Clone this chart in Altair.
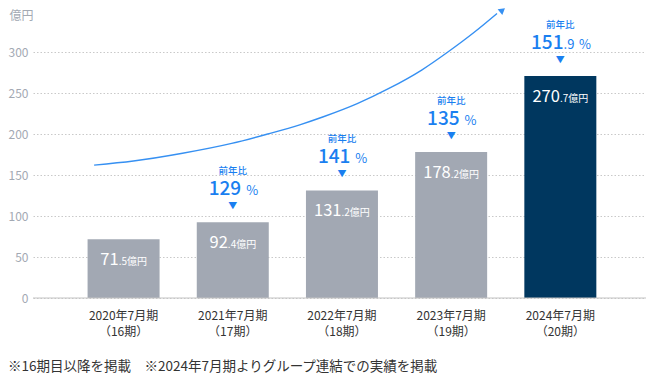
import altair as alt
import pandas as pd

# ---------------- data ----------------
periods = ["2020年7月期", "2021年7月期", "2022年7月期", "2023年7月期", "2024年7月期"]
terms = ["（16期）", "（17期）", "（18期）", "（19期）", "（20期）"]
sales = [71.5, 92.4, 131.2, 178.2, 270.7]
yoy_text = ["", "129", "141", "135", "151.9"]
highlight = [False, False, False, False, True]
y_ticks = [0, 50, 100, 150, 200, 250, 300]

# decorative growth arrow (x in bar-index units, y in 億円)
trend_idx = [-0.27, 0.09, 0.54, 0.99, 1.32, 1.62, 1.83, 2.14, 2.43, 2.73, 2.97, 3.22, 3.42]
trend_val = [162, 167, 176.5, 188.5, 200, 211.5, 221, 237, 255.5, 278, 300, 325, 347]
arrow_idx = [3.47]
arrow_val = [351]

unit = "億円"
yoy_caption = "前年比"
pct_sign = "%"
footnote = "※16期目以降を掲載　※2024年7月期よりグループ連結での実績を掲載"

# ---------------- style ----------------
FONT = "Noto Sans CJK JP"
GRAY = "#a2a8b3"
DARK = "#00375f"
BLUE = "#1a7ff0"
LINE_BLUE = "#3690f2"
AXIS_GRAY = "#a3a9b3"
TEXT = "#333333"

PLOT_W = 613
PLOT_H = 290
STEP = 111.0
X_MIN = -87 / STEP
X_MAX = X_MIN + PLOT_W / STEP
Y_MAX = PLOT_H / 0.82

xs = alt.Scale(domain=[X_MIN, X_MAX], nice=False, zero=False)
ys = alt.Scale(domain=[0, Y_MAX], nice=False, zero=True)

yaxis = alt.Axis(
    values=y_ticks, grid=True, gridDash=[1.5, 2], gridColor="#c9c9c9",
    domain=False, ticks=False, labelPadding=5, labelFontSize=12,
    labelColor=AXIS_GRAY, title=unit, titleAngle=0, titleAlign="left",
    titleBaseline="middle", titleX=-24, titleY=7, titleFontSize=12,
    titleFontWeight="normal", titleColor=AXIS_GRAY,
)


def est_width(s, size):
    w = 0.0
    for ch in s:
        if ch.isdigit():
            w += 0.553
        elif ch == ".":
            w += 0.27
        elif ch == "%":
            w += 0.72
        else:
            w += 1.0
    return w * size


BIG_BAR, SMALL_BAR = 16.5, 10
BIG_PCT, SMALL_PCT = 19, 13
PCT_GAP = 5

rows = []
for i, (p, t, v, h) in enumerate(zip(periods, terms, sales, highlight)):
    s = f"{v:.1f}"
    big, dec = s.split(".")
    small = "." + dec + unit
    off = (est_width(big, BIG_BAR) - est_width(small, SMALL_BAR)) / 2 / STEP
    rows.append({"idx": i, "sales": v, "label": p + "\n" + t, "big": big,
                 "small": small, "lx": i + off, "highlight": h})
bars_df = pd.DataFrame(rows)

yrows = []
for i, (v, yt) in enumerate(zip(sales, yoy_text)):
    if not yt:
        continue
    parts = yt.split(".")
    big = parts[0]
    dec = "." + parts[1] if len(parts) > 1 else ""
    w_big = est_width(big, BIG_PCT)
    w_dec = est_width(dec, SMALL_PCT)
    w_pct = est_width(pct_sign, SMALL_PCT)
    total = w_big + w_dec + PCT_GAP + w_pct
    split_px = -total / 2 + w_big
    yrows.append({"idx": i, "sales": v, "big": big, "dec": dec, "pct": pct_sign,
                  "px": i + split_px / STEP,
                  "sx": i + (split_px + w_dec + PCT_GAP) / STEP,
                  "cap": yoy_caption})
yoy_df = pd.DataFrame(yrows)

trend_df = pd.DataFrame({"i": trend_idx, "v": trend_val})
arrow_df = pd.DataFrame({"i": arrow_idx, "v": arrow_val})
base_df = pd.DataFrame({"base": [0]})
note_df = pd.DataFrame({"t": [footnote]})


def X(f):
    return alt.X(f, scale=xs, axis=None)


def Y(f):
    return alt.Y(f, scale=ys, axis=yaxis)


bars = alt.Chart(bars_df).mark_bar(width=72).encode(
    x=X("idx:Q"), y=Y("sales:Q"),
    color=alt.condition("datum.highlight", alt.value(DARK), alt.value(GRAY)),
)

zero_rule = alt.Chart(base_df).mark_rule(color="#c3c3c3", strokeWidth=1).encode(
    y=Y("base:Q")
)

bar_big = alt.Chart(bars_df).mark_text(
    align="right", baseline="alphabetic", dy=26, fontSize=BIG_BAR, color="white"
).encode(x=X("lx:Q"), y=Y("sales:Q"), text="big:N")

bar_small = alt.Chart(bars_df).mark_text(
    align="left", baseline="alphabetic", dy=26, fontSize=SMALL_BAR, color="white"
).encode(x=X("lx:Q"), y=Y("sales:Q"), text="small:N")

cap = alt.Chart(yoy_df).mark_text(
    align="center", baseline="middle", dy=-51, fontSize=9.5, color=BLUE, fontWeight=500
).encode(x=X("idx:Q"), y=Y("sales:Q"), text="cap:N")

pct_big = alt.Chart(yoy_df).mark_text(
    align="right", baseline="alphabetic", dy=-27, fontSize=BIG_PCT, color=BLUE, fontWeight=500
).encode(x=X("px:Q"), y=Y("sales:Q"), text="big:N")

pct_dec = alt.Chart(yoy_df).mark_text(
    align="left", baseline="alphabetic", dy=-27, fontSize=SMALL_PCT, color=BLUE
).encode(x=X("px:Q"), y=Y("sales:Q"), text="dec:N")

pct_sym = alt.Chart(yoy_df).mark_text(
    align="left", baseline="alphabetic", dy=-27, fontSize=SMALL_PCT, color=BLUE
).encode(x=X("sx:Q"), y=Y("sales:Q"), text="pct:N")

tri = alt.Chart(yoy_df).mark_text(
    align="center", baseline="middle", dy=-16, fontSize=9, color=BLUE, text="▼"
).encode(x=X("idx:Q"), y=Y("sales:Q"))

xlabels = alt.Chart(bars_df).mark_text(
    align="center", baseline="top", dy=13, fontSize=12, color=TEXT,
    lineBreak="\n", lineHeight=16,
).encode(x=X("idx:Q"), y=alt.value(PLOT_H), text="label:N")

trend = alt.Chart(trend_df).mark_line(
    color=LINE_BLUE, strokeWidth=1.4, interpolate="monotone"
).encode(x=X("i:Q"), y=Y("v:Q"))

arrow = alt.Chart(arrow_df).mark_point(
    shape="triangle-up", filled=True, size=55, angle=51, color=LINE_BLUE, opacity=1
).encode(x=X("i:Q"), y=Y("v:Q"))

note = alt.Chart(note_df).mark_text(
    align="left", baseline="middle", fontSize=13.5, color=TEXT
).encode(x=alt.value(-25), y=alt.value(PLOT_H + 69), text="t:N")

chart = alt.layer(
    bars, zero_rule, bar_big, bar_small, cap, pct_big, pct_dec, pct_sym, tri,
    xlabels, trend, arrow, note,
).properties(
    width=PLOT_W, height=PLOT_H,
    padding={"left": 25, "top": 0, "right": 0, "bottom": 78},
    autosize=alt.AutoSizeParams(type="none"),
).configure(font=FONT).configure_view(strokeWidth=0)

chart.save("out.html", embed_options={"renderer": "svg", "actions": False})
